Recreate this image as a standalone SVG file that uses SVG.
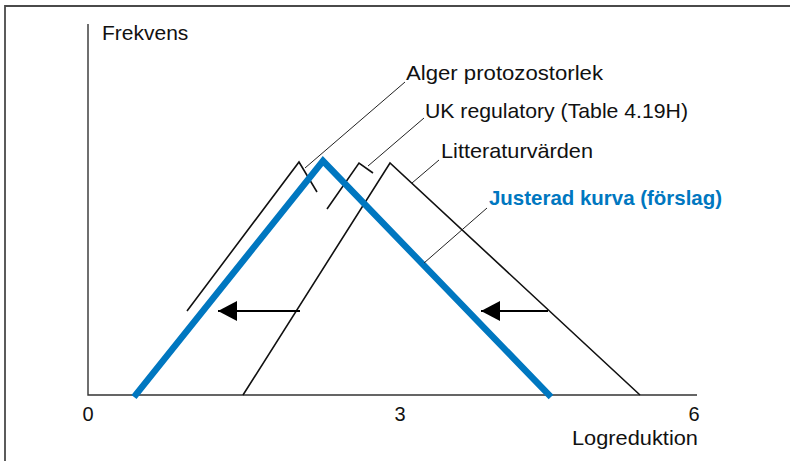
<svg xmlns="http://www.w3.org/2000/svg" width="790" height="461" viewBox="0 0 790 461">
  <defs>
    <style>
      .frame { fill: none; stroke: #4a4a4a; stroke-width: 1.8; }
      .axis { fill: none; stroke: #333; stroke-width: 1.4; }
      .curve { fill: none; stroke: #111; stroke-width: 1.6; stroke-linejoin: miter; }
      .blue { fill: none; stroke: #0077c0; stroke-width: 6.5; stroke-linejoin: miter; }
      .leader { fill: none; stroke: #222; stroke-width: 1; }
      .shift { fill: none; stroke: #000; stroke-width: 1.8; }
      text { font-family: "Liberation Sans", Arial, sans-serif; font-size: 21px; fill: #111; }
      .tick { text-anchor: middle; font-size: 20px; }
      .lbl-blue { fill: #0077c0; font-weight: bold; }
    </style>
    <marker id="arrow" markerWidth="20" markerHeight="20" refX="19" refY="10" orient="auto" markerUnits="userSpaceOnUse">
      <path d="M0,0 L19,10 L0,20 Z" fill="#000"/>
    </marker>
  </defs>

  <!-- outer frame -->
  <path class="frame" d="M5,461 L5,6 L790,6"/>

  <!-- axes -->
  <g id="axes">
    <path class="axis" d="M88,24 L88,395 L697,395"/>
    <text x="102" y="40">Frekvens</text>
    <text class="tick" x="88" y="421">0</text>
    <text class="tick" x="400" y="421">3</text>
    <text class="tick" x="694" y="421">6</text>
    <text x="698" y="445" text-anchor="end" textLength="126" lengthAdjust="spacingAndGlyphs">Logreduktion</text>
  </g>

  <!-- distributions -->
  <g id="literatur">
    <path class="curve" d="M243,395 L390,163 L640,395"/>
    <text x="441" y="158" textLength="152" lengthAdjust="spacingAndGlyphs">Litteraturvärden</text>
  </g>
  <g id="alger">
    <path class="curve" d="M187,311 L299,162 L317,192"/>
    <text x="406" y="80" textLength="197" lengthAdjust="spacingAndGlyphs">Alger protozostorlek</text>
  </g>
  <g id="uk-regulatory">
    <path class="curve" d="M327,209 L359,163 L373,173"/>
    <text x="425" y="118" textLength="263" lengthAdjust="spacingAndGlyphs">UK regulatory (Table 4.19H)</text>
  </g>
  <g id="justerad">
    <path class="blue" d="M134,397 L323,161 L551,397"/>
    <text class="lbl-blue" x="489" y="205" textLength="233" lengthAdjust="spacingAndGlyphs">Justerad kurva (förslag)</text>
  </g>

  <!-- leaders and shift arrows -->
  <g id="connectors">
    <path class="leader" d="M405,82 L305,168"/>
    <path class="leader" d="M424,118 L368,166"/>
    <path class="leader" d="M439,160 L412,183"/>
    <path class="leader" d="M487,208 L424,263"/>
    <path class="shift" d="M300,311 L218,311" marker-end="url(#arrow)"/>
    <path class="shift" d="M548,311 L481,311" marker-end="url(#arrow)"/>
  </g>
</svg>
